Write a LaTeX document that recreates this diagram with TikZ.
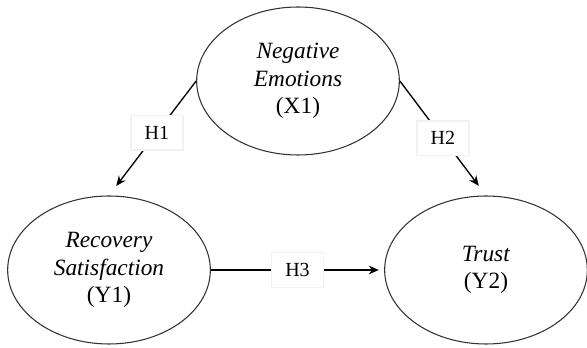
\documentclass[tikz,border=0pt]{standalone}
\usepackage{fontspec}
\setmainfont{Liberation Serif}
\usetikzlibrary{shapes.geometric,arrows.meta}
\begin{document}
\begin{tikzpicture}[
        x=0.75pt, y=-0.75pt,
        font=\fontsize{17.5}{20.5}\selectfont
    ]
    \tikzset{
        construct/.style = {ellipse, draw=black!80, line width=0.8pt, align=center, minimum width=152pt, minimum height=111pt, inner sep=0pt},
        hypo/.style = {rectangle, draw=black!5, fill=white, minimum width=39pt, minimum height=26pt, font=\fontsize{15}{17}\selectfont},
        effect/.style = {-{Stealth[length=7.5pt,width=6.5pt]}, line width=1pt, shorten >=9pt},
    }
    \useasboundingbox (0,0) rectangle (587,348);
    \node[construct] (ne) at (298,81) {\textit{Negative}\\\textit{Emotions}\\(X1)};
    \node[construct] (rs) at (109,270) {\textit{Recovery}\\\textit{Satisfaction}\\(Y1)};
    \node[construct] (tr) at (486,270) {\textit{Trust}\\(Y2)};
    \draw[effect] (ne.west) -- node[hypo, pos=0.45] {H1} (rs.north);
    \draw[effect] (ne.east) -- node[hypo] {H2} (tr.north);
    \draw[effect, shorten >=4pt] (rs.east) -- node[hypo] {H3} (tr.west);
\end{tikzpicture}
\end{document}
